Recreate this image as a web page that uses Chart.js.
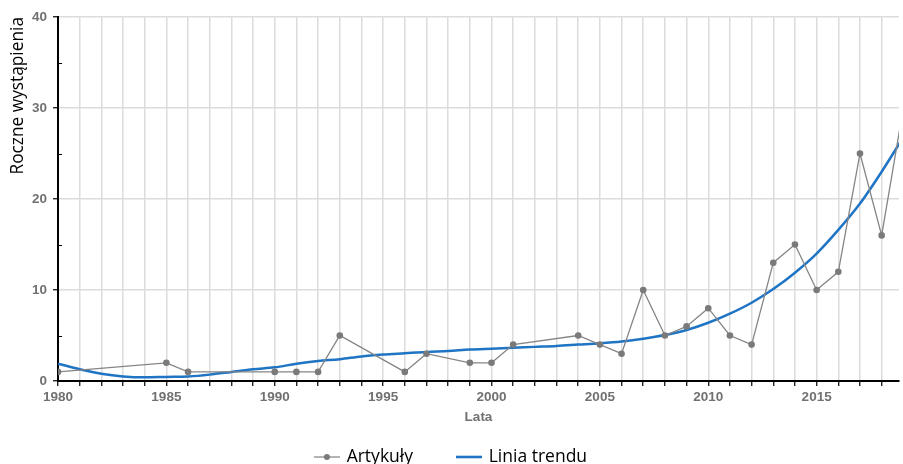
<!DOCTYPE html>
<html>
<head>
<meta charset="utf-8">
<script src="https://cdn.jsdelivr.net/npm/chart.js@4"></script>
<style>
  html, body { margin: 0; padding: 0; background: #fff; }
  #wrap { width: 903px; height: 464px; }
</style>
</head>
<body>
<div id="wrap"><canvas id="c" width="903" height="464"></canvas></div>
<script>
// Years with recorded articles and their yearly counts
const articleYears = [1980, 1985, 1986, 1990, 1991, 1992, 1993, 1996, 1997, 1999, 2000, 2001, 2004, 2005, 2006, 2007, 2008, 2009, 2010, 2011, 2012, 2013, 2014, 2015, 2016, 2017, 2018, 2019];
const articleCounts = [1, 2, 1, 1, 1, 1, 5, 1, 3, 2, 2, 4, 5, 4, 3, 10, 5, 6, 8, 5, 4, 13, 15, 10, 12, 25, 16, 30];

// Fitted trend, one value per year
const trendYears = [1980, 1981, 1982, 1983, 1984, 1985, 1986, 1987, 1988, 1989, 1990, 1991, 1992, 1993, 1994, 1995, 1996, 1997, 1998, 1999, 2000, 2001, 2002, 2003, 2004, 2005, 2006, 2007, 2008, 2009, 2010, 2011, 2012, 2013, 2014, 2015, 2016, 2017, 2018, 2019];
const trendValues = [1.9, 1.3, 0.8, 0.5, 0.4, 0.45, 0.5, 0.7, 1.0, 1.3, 1.5, 1.9, 2.2, 2.4, 2.7, 2.9, 3.05, 3.2, 3.3, 3.45, 3.55, 3.65, 3.75, 3.85, 4.0, 4.15, 4.35, 4.65, 5.05, 5.6, 6.4, 7.4, 8.6, 10.1, 11.9, 14.0, 16.6, 19.5, 23.0, 26.8];

const seriesNames = ['Artykuły', 'Linia trendu'];
const xTitle = 'Lata';
const yTitle = 'Roczne wystąpienia';

const GRAY = '#858585';
const BLUE = '#1f74c4';
const TICK_COLOR = '#717171';

// Legend swatches: the visible 26px line sits at the right end of a wider
// transparent canvas, which leaves a gap before each entry
function swatch(color, withDot, lineW) {
  const c = document.createElement('canvas');
  c.width = 54; c.height = 12;
  const g = c.getContext('2d');
  g.strokeStyle = color;
  g.lineWidth = lineW;
  g.beginPath(); g.moveTo(28, 6); g.lineTo(54, 6); g.stroke();
  if (withDot) {
    g.fillStyle = '#7a7a7a';
    g.beginPath(); g.arc(41, 6, 3, 0, Math.PI * 2); g.fill();
  }
  return c;
}
const swatches = [swatch('#8a8a8a', true, 1.3), swatch(BLUE, false, 2.6)];

// Small inward minor ticks on the value axis
const minorTicks = {
  id: 'minorTicks',
  afterDraw(chart) {
    const y = chart.scales.y, x = chart.scales.x;
    const ctx = chart.ctx;
    ctx.save();
    ctx.strokeStyle = '#000';
    ctx.lineWidth = 1;
    for (let v = 5; v < 40; v += 10) {
      const py = Math.round(y.getPixelForValue(v)) + 0.5;
      ctx.beginPath();
      ctx.moveTo(x.left, py);
      ctx.lineTo(x.left + 4, py);
      ctx.stroke();
    }
    ctx.restore();
  }
};

// Nudge the legend row slightly left of centre
const legendShift = {
  id: 'legendShift',
  afterLayout(chart) {
    if (chart.legend) {
      chart.legend.left -= 14;
      chart.legend.right -= 14;
    }
  }
};

const tickFont = { family: '"Liberation Sans", Arial, sans-serif', size: 13.5, weight: 'bold' };

new Chart(document.getElementById('c'), {
  type: 'line',
  data: {
    datasets: [
      {
        label: seriesNames[0],
        data: articleYears.map((yr, i) => ({ x: yr, y: articleCounts[i] })),
        borderColor: GRAY,
        borderWidth: 1.3,
        pointRadius: 3.3,
        pointBackgroundColor: '#7a7a7a',
        pointBorderWidth: 0,
        tension: 0
      },
      {
        label: seriesNames[1],
        data: trendYears.map((yr, i) => ({ x: yr, y: trendValues[i] })),
        borderColor: BLUE,
        borderWidth: 2.5,
        pointRadius: 0,
        cubicInterpolationMode: 'monotone'
      }
    ]
  },
  options: {
    responsive: false,
    animation: false,
    events: [],
    layout: { padding: { top: 17, right: 0, left: 0, bottom: -11.75 } },
    plugins: {
      tooltip: { enabled: false },
      legend: {
        position: 'bottom',
        labels: {
          usePointStyle: true,
          pointStyleWidth: 50,
          padding: 17,
          color: '#000',
          font: { family: '"Open Sans", sans-serif', size: 17.5 },
          generateLabels(chart) {
            return chart.data.datasets.map((ds, i) => ({
              text: ds.label,
              pointStyle: swatches[i],
              fillStyle: 'transparent',
              strokeStyle: 'transparent',
              lineWidth: 0,
              fontColor: '#000',
              datasetIndex: i
            }));
          }
        }
      }
    },
    scales: {
      x: {
        type: 'linear',
        min: 1980,
        max: 2018.8,
        afterFit(scale) { scale.height = 50.25; },
        border: { color: '#000', width: 2 },
        grid: {
          color: '#dcdcdc',
          lineWidth: 1.5,
          drawTicks: true,
          tickLength: 5,
          tickColor: '#000',
          tickWidth: 1.2
        },
        ticks: {
          stepSize: 1,
          includeBounds: false,
          autoSkip: false,
          maxRotation: 0,
          padding: 3,
          color: TICK_COLOR,
          font: tickFont,
          callback: (v) => (v % 5 === 0 ? String(v) : '')
        },
        title: {
          display: true,
          text: xTitle,
          color: TICK_COLOR,
          font: tickFont,
          padding: { top: 2, bottom: 5.5 }
        }
      },
      y: {
        min: 0,
        max: 40,
        afterFit(scale) { scale.width = 58; },
        border: { color: '#000', width: 2 },
        grid: {
          color: '#dcdcdc',
          lineWidth: 1.5,
          tickLength: 5,
          tickColor: '#000',
          tickWidth: 1.2
        },
        ticks: {
          stepSize: 10,
          padding: 6,
          color: TICK_COLOR,
          font: tickFont
        },
        title: {
          display: true,
          text: yTitle,
          align: 'end',
          color: '#000',
          font: { family: '"Open Sans", sans-serif', size: 17.3 },
          padding: { top: 8, bottom: 0 }
        }
      }
    }
  },
  plugins: [minorTicks, legendShift]
});
</script>
</body>
</html>
